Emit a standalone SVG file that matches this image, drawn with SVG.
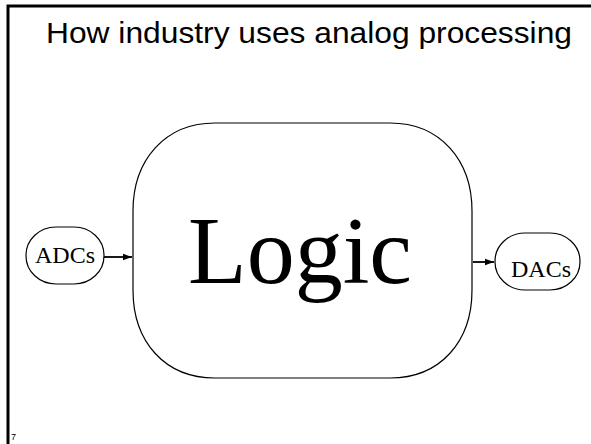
<svg xmlns="http://www.w3.org/2000/svg" width="591" height="444" viewBox="0 0 591 444">
<style>
.frame{fill:none;stroke:#000;stroke-width:3}
.node{fill:#fff;stroke:#000;stroke-width:1.2}
.conn{stroke:#000;stroke-width:1.8;fill:none}
.serif{font-family:"Liberation Serif","Times New Roman",serif;fill:#000}
.sans{font-family:"Liberation Sans",Arial,sans-serif;fill:#000}
</style>
<defs>
<marker id="ah" viewBox="0 0 10 10" refX="10" refY="5" markerWidth="5" markerHeight="5" orient="auto" markerUnits="strokeWidth">
<path d="M0,1.5 L10,5 L0,8.5 z" fill="#000"/>
</marker>
</defs>
<rect class="frame" x="8" y="6" width="600" height="460"/>
<text class="sans" x="46" y="43" font-size="29" textLength="526" lengthAdjust="spacingAndGlyphs">How industry uses analog processing</text>
<g id="connectors">
<line class="conn" x1="104" y1="257" x2="132" y2="257" marker-end="url(#ah)"/>
<line class="conn" x1="473" y1="262" x2="494" y2="262" marker-end="url(#ah)"/>
</g>
<g id="logic">
<path class="node" d="M215,123 L390,123 C440,123 472,160 472,211 L472,290 C472,342 440,378 390,378 L215,378 C165,378 133,342 133,290 L133,211 C133,160 165,123 215,123 Z"/>
<text class="serif" x="300" y="283" font-size="96" text-anchor="middle">Logic</text>
</g>
<g id="adcs">
<rect class="node" x="26" y="227" width="78" height="57" rx="30" ry="28"/>
<text class="serif" x="65" y="263" font-size="24" text-anchor="middle">ADCs</text>
</g>
<g id="dacs">
<rect class="node" x="495" y="233" width="85" height="57" rx="30" ry="28"/>
<text class="serif" x="541" y="277" font-size="24" text-anchor="middle">DACs</text>
</g>
<text class="sans" x="11" y="440" font-size="9">7</text>
</svg>
